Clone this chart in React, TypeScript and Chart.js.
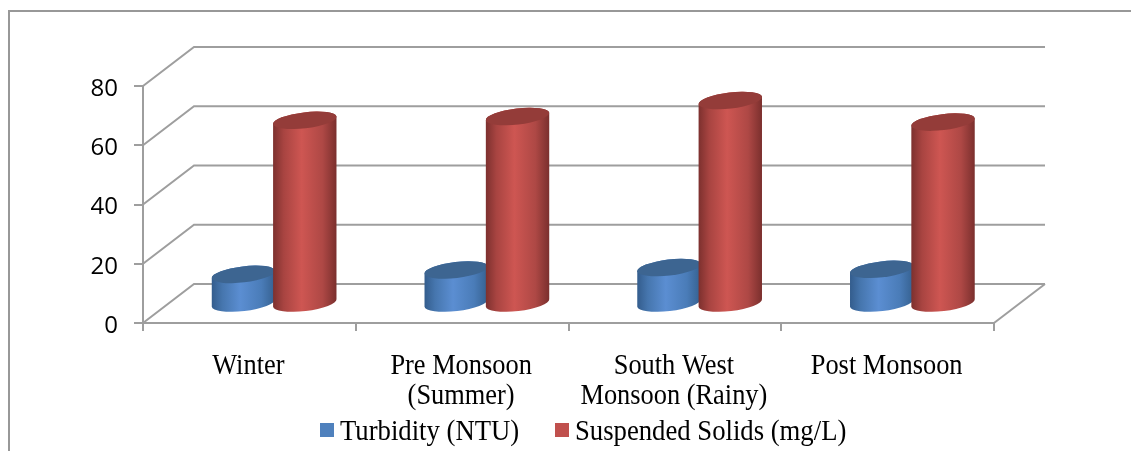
import React, { useEffect, useRef } from "react";
import { Chart, registerables, CategoryScale, LinearScale } from "chart.js";

const categories = [
  "Winter",
  ["Pre Monsoon", "(Summer)"],
  ["South West", "Monsoon (Rainy)"],
  "Post Monsoon",
];
const turbidity = [10, 11.5, 12.3, 11.7];
const suspendedSolids = [62, 63.3, 68.7, 61.4];
const seriesNames = ["Turbidity (NTU)", "Suspended Solids (mg/L)"];
const seriesColors = ["#4F81BD", "#C0504D"];
const yTickStep = 20;
const yMax = 80;

const GRID = "#9e9e9e";
const SERIF = "'Liberation Serif'";
const DEPTH_X = 51;
const DEPTH_Y = 39;
const BAR_DEPTH_X = [26, 23.5];
const BAR_DEPTH_Y = 19;
const TEXT_STRETCH = 1.1;

// Cylinder shading per series: edge, mid, peak, mid, edge, cap
const shades = [
  ["#335c8c", "#4676ae", "#5b8ed2", "#4a7cb8", "#35608f", "#3d6591"],
  ["#7c302e", "#a84441", "#ce5652", "#ae4845", "#7a2f2d", "#943c39"],
];

// Category axis whose labels are drawn slightly taller than their font.
class TallLabelScale extends CategoryScale {
  static id = "tallCategory";
  static defaults = CategoryScale.defaults;
  drawLabels(area: any) {
    const ctx = this.ctx;
    const y0 = this.top;
    ctx.save();
    ctx.translate(-1, y0);
    ctx.scale(1, TEXT_STRETCH);
    ctx.translate(0, -y0);
    super.drawLabels(area);
    ctx.restore();
  }
}

// Value axis with its labels set a little below the tick marks.
class DroppedLabelScale extends LinearScale {
  static id = "droppedLinear";
  static defaults = LinearScale.defaults;
  drawLabels(area: any) {
    const ctx = this.ctx;
    ctx.save();
    ctx.translate(0, 3);
    super.drawLabels(area);
    ctx.restore();
  }
}

const line = (ctx: any, pts: number[][]) => {
  ctx.beginPath();
  pts.forEach(([x, y], i) => (i ? ctx.lineTo(x, y) : ctx.moveTo(x, y)));
  ctx.stroke();
};

// Outer frame, then the side wall and back wall of the 3D box.
const boxPlugin = {
  id: "box",
  beforeDatasetsDraw(chart: any) {
    const { ctx, scales, chartArea, width, height } = chart;
    ctx.save();
    ctx.lineWidth = 2;
    ctx.strokeStyle = "#989898";
    line(ctx, [[9, height], [9, 11], [width, 11]]);
    ctx.strokeStyle = GRID;
    scales.y.ticks.forEach((t: any) => {
      const y = scales.y.getPixelForValue(t.value);
      line(ctx, [
        [chartArea.left, y],
        [chartArea.left + DEPTH_X, y - DEPTH_Y],
        [chartArea.right + DEPTH_X, y - DEPTH_Y],
      ]);
    });
    const y0 = scales.y.getPixelForValue(0);
    line(ctx, [[chartArea.right, y0], [chartArea.right + DEPTH_X, y0 - DEPTH_Y]]);
    ctx.restore();
  },
};

// Each bar element is painted as a tilted cylinder set at mid depth of the box.
const cylinderPlugin = {
  id: "cylinders",
  beforeDatasetDraw() {
    return false;
  },
  afterDatasetsDraw(chart: any) {
    const { ctx } = chart;
    const tilt = (-6.7 * Math.PI) / 180;
    const ry = 8;
    chart.data.datasets.forEach((_: any, di: number) => {
      const s = shades[di];
      chart.getDatasetMeta(di).data.forEach((el: any) => {
        const p = el.getProps(["x", "y", "base", "width"], true);
        const cx = p.x + BAR_DEPTH_X[di];
        const top = p.y - BAR_DEPTH_Y;
        const bottom = p.base - BAR_DEPTH_Y;
        const rx = p.width / 2;
        const g = ctx.createLinearGradient(cx - rx, 0, cx + rx, 0);
        [0, 0.17, 0.45, 0.78, 1].forEach((o, i) => g.addColorStop(o, s[i]));
        ctx.save();
        ctx.fillStyle = g;
        ctx.beginPath();
        ctx.ellipse(cx, bottom, rx, ry, tilt, 0, Math.PI);
        ctx.ellipse(cx, top, rx, ry, tilt, Math.PI, Math.PI * 2);
        ctx.closePath();
        ctx.fill();
        ctx.fillStyle = s[5];
        ctx.beginPath();
        ctx.ellipse(cx, top, rx, ry, tilt, 0, Math.PI * 2);
        ctx.fill();
        ctx.restore();
      });
    });
  },
};

// Legend row: tight swatch-to-text gap under the axis labels.
const legendRowPlugin = {
  id: "legendRow",
  afterDraw(chart: any) {
    const { ctx } = chart;
    const swatchX = [320, 555];
    const baseline = 440;
    ctx.save();
    ctx.font = `26.7px ${SERIF}`;
    ctx.textBaseline = "alphabetic";
    ctx.textAlign = "left";
    chart.data.datasets.forEach((d: any, i: number) => {
      ctx.fillStyle = d.backgroundColor;
      ctx.fillRect(swatchX[i], 423, 14, 14);
      ctx.fillStyle = "#000";
      ctx.save();
      ctx.translate(swatchX[i] + 20, baseline);
      ctx.scale(1, TEXT_STRETCH);
      ctx.fillText(d.label, 0, 0);
      ctx.restore();
    });
    ctx.restore();
  },
};

Chart.register(...registerables, TallLabelScale, DroppedLabelScale);

export default function App() {
  const ref = useRef<HTMLCanvasElement>(null);
  useEffect(() => {
    const chart = new Chart(ref.current as HTMLCanvasElement, {
      type: "bar",
      data: {
        labels: categories as any,
        datasets: [
          { label: seriesNames[0], data: turbidity, backgroundColor: seriesColors[0] },
          { label: seriesNames[1], data: suspendedSolids, backgroundColor: seriesColors[1] },
        ],
      },
      options: {
        responsive: false,
        animation: false,
        events: [],
        layout: { padding: { left: 0, top: 86, right: 137, bottom: 0 } },
        datasets: { bar: { categoryPercentage: 0.6, barPercentage: 1 } },
        plugins: { legend: { display: false }, tooltip: { enabled: false } },
        scales: {
          x: {
            type: "tallCategory",
            offset: true,
            afterFit: (s: any) => {
              s.height = 128;
            },
            border: { color: GRID, width: 2 },
            grid: { offset: true, drawOnChartArea: false, tickLength: 8, color: GRID, lineWidth: 2 },
            ticks: {
              color: "#000",
              maxRotation: 0,
              autoSkip: false,
              padding: 18,
              font: { family: SERIF, size: 26.4, lineHeight: 1.03 },
            },
          } as any,
          y: {
            type: "droppedLinear",
            min: 0,
            max: yMax,
            afterFit: (s: any) => {
              s.width = 143;
            },
            border: { color: GRID, width: 2 },
            grid: { drawOnChartArea: false, tickLength: 9, color: GRID, lineWidth: 2 },
            ticks: {
              stepSize: yTickStep,
              color: "#000",
              padding: 16,
              font: { family: "'Open Sans'", size: 24 },
            },
          } as any,
        },
      },
      plugins: [boxPlugin, cylinderPlugin, legendRowPlugin],
    } as any);
    return () => chart.destroy();
  }, []);
  return (
    <div style={{ position: "absolute", left: 0, top: 0 }}>
      <canvas ref={ref} width={1131} height={451} style={{ display: "block" }} />
    </div>
  );
}
